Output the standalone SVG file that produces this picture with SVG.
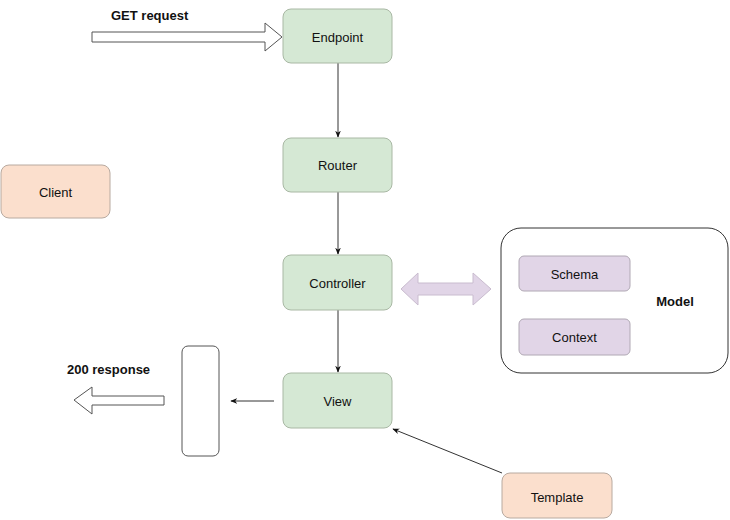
<svg xmlns="http://www.w3.org/2000/svg" width="730" height="520" viewBox="0 0 730 520">
  <defs>
    <style>
      .lbl { font-family: "Liberation Sans", Arial, sans-serif; font-size: 13px; fill: #111; text-anchor: middle; dominant-baseline: central; }
      .bold { font-family: "Liberation Sans", Arial, sans-serif; font-size: 13px; font-weight: bold; fill: #111; }
      .green { fill: #d5e8d4; stroke: #a9b8a4; stroke-width: 1; }
      .peach { fill: #fbdfcd; stroke: #b8aaa0; stroke-width: 1; }
      .purple { fill: #e1d5e7; stroke: #b0a8b4; stroke-width: 1; }
      .conn { stroke: #333; stroke-width: 1; fill: none; }
    </style>
    <marker id="ah" viewBox="0 0 10 10" refX="9" refY="5" markerWidth="7" markerHeight="7" orient="auto">
      <path d="M0,1 L10,5 L0,9 L3,5 Z" fill="#111"/>
    </marker>
  </defs>
  <rect width="730" height="520" fill="#fff"/>

  <g id="connectors">
    <line class="conn" x1="338" y1="63" x2="338" y2="137" marker-end="url(#ah)"/>
    <line class="conn" x1="338" y1="192" x2="338" y2="254" marker-end="url(#ah)"/>
    <line class="conn" x1="338" y1="310" x2="338" y2="372" marker-end="url(#ah)"/>
    <line class="conn" x1="274" y1="401" x2="231" y2="401" marker-end="url(#ah)"/>
    <line class="conn" x1="502" y1="473" x2="393" y2="429" marker-end="url(#ah)"/>
    <path id="get-arrow" d="M92,32 L265,32 L265,23 L282,37 L265,51 L265,42 L92,42 Z" fill="#fff" stroke="#555" stroke-width="1"/>
    <path id="resp-arrow" d="M164,396 L92,396 L92,387 L74,400 L92,414 L92,405 L164,405 Z" fill="#fff" stroke="#555" stroke-width="1"/>
    <path id="model-arrow" d="M401,289 L418,273 L418,283 L473,283 L473,273 L491,289 L473,305 L473,295 L418,295 L418,305 Z" fill="#e1d5e7" stroke="#c9bccf" stroke-width="1"/>
  </g>

  <text class="bold" x="111" y="20">GET request</text>
  <text class="bold" x="67" y="374">200 response</text>

  <g id="endpoint">
    <rect class="green" x="283" y="9" width="109" height="54" rx="8"/>
    <text class="lbl" x="337.5" y="37">Endpoint</text>
  </g>
  <g id="router">
    <rect class="green" x="283" y="138" width="109" height="54" rx="8"/>
    <text class="lbl" x="337.5" y="165">Router</text>
  </g>
  <g id="controller">
    <rect class="green" x="283" y="255" width="109" height="55" rx="8"/>
    <text class="lbl" x="337.5" y="283">Controller</text>
  </g>
  <g id="view">
    <rect class="green" x="283" y="373" width="109" height="55" rx="8"/>
    <text class="lbl" x="337.5" y="401">View</text>
  </g>
  <g id="client">
    <rect class="peach" x="1" y="165" width="109" height="53" rx="8"/>
    <text class="lbl" x="55.5" y="192">Client</text>
  </g>
  <g id="response-box">
    <rect x="182" y="346" width="37" height="110" rx="6" fill="#fff" stroke="#555" stroke-width="1"/>
  </g>
  <g id="model">
    <rect x="501" y="228" width="227" height="145" rx="20" fill="#fff" stroke="#333" stroke-width="1"/>
    <text class="lbl" x="675" y="301" font-weight="bold">Model</text>
  </g>
  <g id="schema">
    <rect class="purple" x="519" y="256" width="111" height="35" rx="5"/>
    <text class="lbl" x="574.5" y="274">Schema</text>
  </g>
  <g id="context">
    <rect class="purple" x="519" y="319" width="111" height="36" rx="5"/>
    <text class="lbl" x="574.5" y="337">Context</text>
  </g>
  <g id="template">
    <rect class="peach" x="502" y="473" width="110" height="45" rx="8"/>
    <text class="lbl" x="557" y="497">Template</text>
  </g>
</svg>
